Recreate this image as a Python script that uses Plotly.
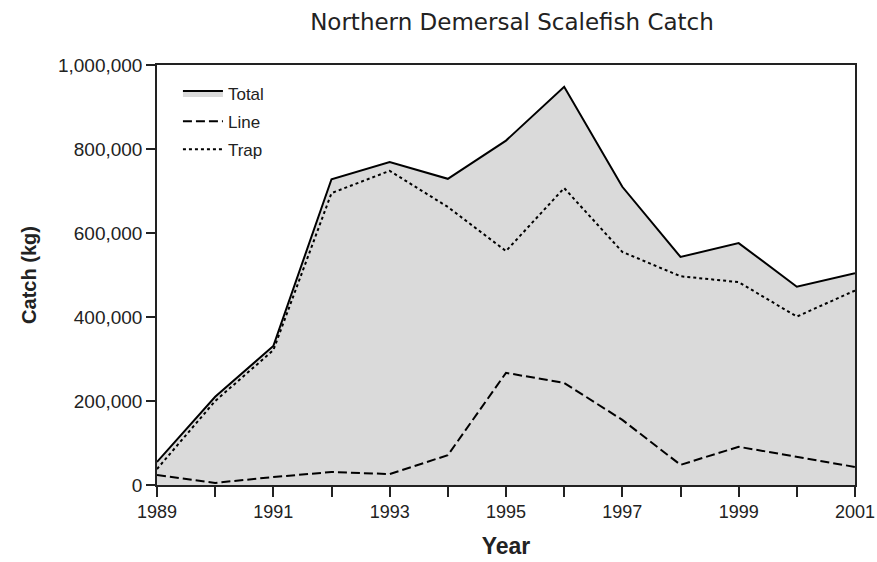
import plotly.graph_objects as go

years = list(range(1989, 2002))
total = [55000, 210000, 331000, 728000, 769000, 729000, 820000, 948000, 710000, 543000, 576000, 472000, 504000]
line = [24000, 5000, 19000, 31000, 26000, 71000, 267000, 243000, 155000, 48000, 91000, 67000, 43000]
trap = [38000, 200000, 321000, 695000, 748000, 662000, 557000, 707000, 555000, 497000, 483000, 401000, 463000]

x_tickvals = years
x_ticktext = [str(y) if (y - 1989) % 2 == 0 else "" for y in years]
y_tickvals = [0, 200000, 400000, 600000, 800000, 1000000]

fig = go.Figure()
fig.add_trace(go.Scatter(x=years, y=total, name="Total", mode="lines", legendgroup="a",
                         line=dict(color="black", width=2),
                         fill="tozeroy", fillcolor="#dadada"))
fig.add_trace(go.Scatter(x=years, y=line, name="Line", mode="lines", legendgroup="b",
                         line=dict(color="black", width=2, dash="9px,4px")))
fig.add_trace(go.Scatter(x=years, y=trap, name="Trap", mode="lines", legendgroup="c",
                         line=dict(color="black", width=2, dash="3px,3px")))

font_main = "Liberation Sans, Arial, sans-serif"
fig.update_layout(
    width=877, height=562,
    margin=dict(l=157, r=22, t=65, b=77, autoexpand=False),
    paper_bgcolor="white", plot_bgcolor="white",
    title=dict(text="Northern Demersal Scalefish Catch", x=512/877, xanchor="center",
               xref="container", yref="container", y=1 - 22/562, yanchor="middle",
               font=dict(family="DejaVu Sans, sans-serif", size=23, color="#222")),
    font=dict(family=font_main, size=19, color="#222"),
    showlegend=True,
    legend=dict(x=0.03, y=0.975, xanchor="left", yanchor="top",
                bgcolor="rgba(0,0,0,0)", font=dict(size=17, color="#222"),
                tracegroupgap=3, itemwidth=40),
    xaxis=dict(range=[1989, 2001], tickvals=x_tickvals, ticktext=x_ticktext,
               ticks="outside", ticklen=10, tickwidth=1.5, tickcolor="#222",
               tickfont=dict(size=18), ticklabeloverflow="allow", automargin=False,
               showline=True, linecolor="#222", linewidth=1.5, mirror=True,
               showgrid=False, zeroline=False,
               title=dict(text="<b>Year</b>", font=dict(size=23, family=font_main), standoff=17)),
    yaxis=dict(range=[0, 1000000], tickvals=y_tickvals, tickformat=",",
               ticks="outside", ticklen=9, tickwidth=1.5, tickcolor="#222",
               tickfont=dict(size=19), ticklabeloverflow="allow", automargin=False,
               showline=True, linecolor="#222", linewidth=1.5, mirror=True,
               showgrid=False, zeroline=False,
               title=dict(text="<b>Catch (kg)</b>", font=dict(size=20, family=font_main), standoff=16)),
)

fig.write_html("out.html", config={"displayModeBar": False},
               post_script="document.body.style.margin='0';document.body.style.overflow='hidden';")
